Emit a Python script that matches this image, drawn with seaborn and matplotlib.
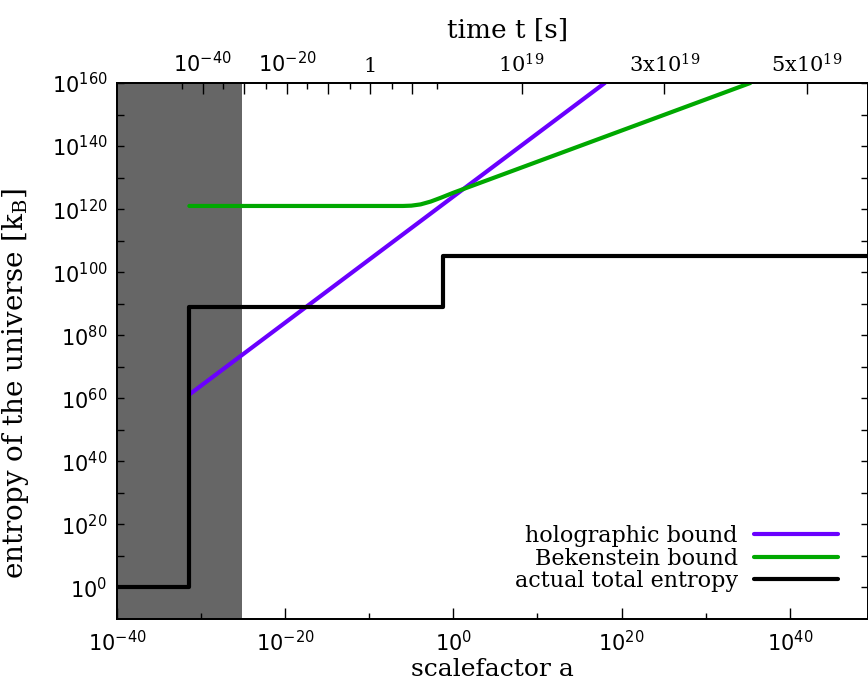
import numpy as np
import pandas as pd
import seaborn as sns
import matplotlib
matplotlib.use('Agg')
import matplotlib.pyplot as plt
from matplotlib.ticker import FixedLocator, FixedFormatter, NullFormatter

# values, stored as log10
holo_log_a = [-31.4, 18.0]
holo_log_S = [61.2, 160.0]

bek_log_a = [-31.4, -6.0, -5.0, -3.9, -2.7, -1.5, 0.0, 35.3]
bek_log_S = [121.0, 121.0, 121.1, 121.5, 122.4, 123.6, 125.2, 160.0]

tot_log_a = [-40.0, -31.4, -1.2, 49.3]
tot_log_S = [0.0, 89.0, 105.0, 105.0]

shade_log_a = [-40.0, -25.1]

# time axis on top (positions in log10 a)
top_major_log_a = [-29.8, -24.9, -19.8, -14.9, -9.9, -4.9, 8.1, 25.1, 42.0]
top_major_labels = [r'$10^{-40}$', '', r'$10^{-20}$', '', '1', '',
                    r'$\mathdefault{10^{19}}$', r'$\mathdefault{3x10^{19}}$',
                    r'$\mathdefault{5x10^{19}}$']
top_minor_log_a = [-32.3, -27.4, -22.3, -17.4, -12.3, -7.3, -1.9]

x_major = [-40, -20, 0, 20, 40]
x_minor = [-30, -10, 10, 30]
y_major = [0, 20, 40, 60, 80, 100, 120, 140, 160]
y_minor = [10, 30, 50, 70, 90, 110, 130, 150]

xlim_log = (-40.0, 49.3)
ylim_log = (-10.0, 160.0)

sns.set_style('ticks')
plt.rcParams['font.family'] = ['DejaVu Serif']
plt.rcParams['mathtext.fontset'] = 'dejavusans'
for k in ['text.color', 'axes.labelcolor', 'xtick.color', 'ytick.color', 'axes.edgecolor']:
    plt.rcParams[k] = 'black'

c_holo = '#6a00ff'
c_bek = '#00a800'
c_tot = '#000000'

fig = plt.figure(figsize=(8.68, 6.89), dpi=100)
ax = fig.add_axes([117 / 868, 1 - 619 / 689, 1 - 117 / 868, (619 - 83) / 689])

ax.axvspan(10 ** shade_log_a[0], 10 ** shade_log_a[1], color='#666666', lw=0, zorder=0)

holo = pd.DataFrame({'a': np.power(10.0, holo_log_a), 'S': np.power(10.0, holo_log_S)})
bek = pd.DataFrame({'a': np.power(10.0, bek_log_a), 'S': np.power(10.0, bek_log_S)})
tot = pd.DataFrame({'a': np.power(10.0, tot_log_a), 'S': np.power(10.0, tot_log_S)})

sns.lineplot(data=holo, x='a', y='S', color=c_holo, lw=3, ax=ax, sort=False,
             label='holographic bound', zorder=3)
sns.lineplot(data=bek, x='a', y='S', color=c_bek, lw=3, ax=ax, sort=False,
             label='Bekenstein bound', zorder=3)
sns.lineplot(data=tot, x='a', y='S', color=c_tot, lw=3, ax=ax, sort=False,
             drawstyle='steps-post', label='actual total entropy', zorder=4)

ax.set_xscale('log')
ax.set_yscale('log')
ax.set_xlim(10 ** xlim_log[0], 10 ** xlim_log[1])
ax.set_ylim(10 ** ylim_log[0], 10 ** ylim_log[1])

ax.xaxis.set_major_locator(FixedLocator([10.0 ** v for v in x_major]))
ax.xaxis.set_major_formatter(FixedFormatter([r'$10^{%d}$' % v for v in x_major]))
ax.xaxis.set_minor_locator(FixedLocator([10.0 ** v for v in x_minor]))
ax.xaxis.set_minor_formatter(NullFormatter())
ax.yaxis.set_major_locator(FixedLocator([10.0 ** v for v in y_major]))
ax.yaxis.set_major_formatter(FixedFormatter([r'$10^{%d}$' % v for v in y_major]))
ax.yaxis.set_minor_locator(FixedLocator([10.0 ** v for v in y_minor]))
ax.yaxis.set_minor_formatter(NullFormatter())

ax.tick_params(axis='x', which='major', direction='in', length=8, width=1, labelsize=15, pad=8, top=False)
ax.tick_params(axis='x', which='minor', direction='in', length=4, width=1, top=False)
ax.tick_params(axis='y', which='both', direction='in', length=5, width=1, labelsize=15, pad=7, right=True)

for s in ax.spines.values():
    s.set_linewidth(1.3)

ax.set_xlabel('scalefactor a', fontsize=18, labelpad=2)
ax.set_ylabel(r'entropy of the universe [k$_\mathregular{B}$]', fontsize=20)
ax.yaxis.set_label_coords(-0.115, 0.44)

# top axis: cosmic time
axt = ax.twiny()
axt.set_xscale('log')
axt.set_xlim(ax.get_xlim())
axt.xaxis.set_major_locator(FixedLocator([10.0 ** v for v in top_major_log_a]))
axt.xaxis.set_major_formatter(FixedFormatter(top_major_labels))
axt.xaxis.set_minor_locator(FixedLocator([10.0 ** v for v in top_minor_log_a]))
axt.xaxis.set_minor_formatter(NullFormatter())
axt.tick_params(axis='x', which='major', direction='in', length=8, width=1, labelsize=15, pad=5)
axt.tick_params(axis='x', which='minor', direction='in', length=4, width=1)
for lbl in axt.get_xticklabels():
    if '10^{-' not in lbl.get_text():
        lbl.set_family('DejaVu Serif')
axt.set_xlabel('time t [s]', fontsize=19)
axt.xaxis.set_label_coords(0.52, 1.085)
for s in axt.spines.values():
    s.set_linewidth(1.3)

leg = ax.legend(loc='lower right', bbox_to_anchor=(0.96, 0.05), frameon=False,
                markerfirst=False, fontsize=16, handlelength=3.8, handletextpad=0.7,
                labelspacing=0.03, borderpad=0, borderaxespad=0)
for t in leg.get_texts():
    t.set_ha('right')

fig.savefig('out.png', dpi=100)
